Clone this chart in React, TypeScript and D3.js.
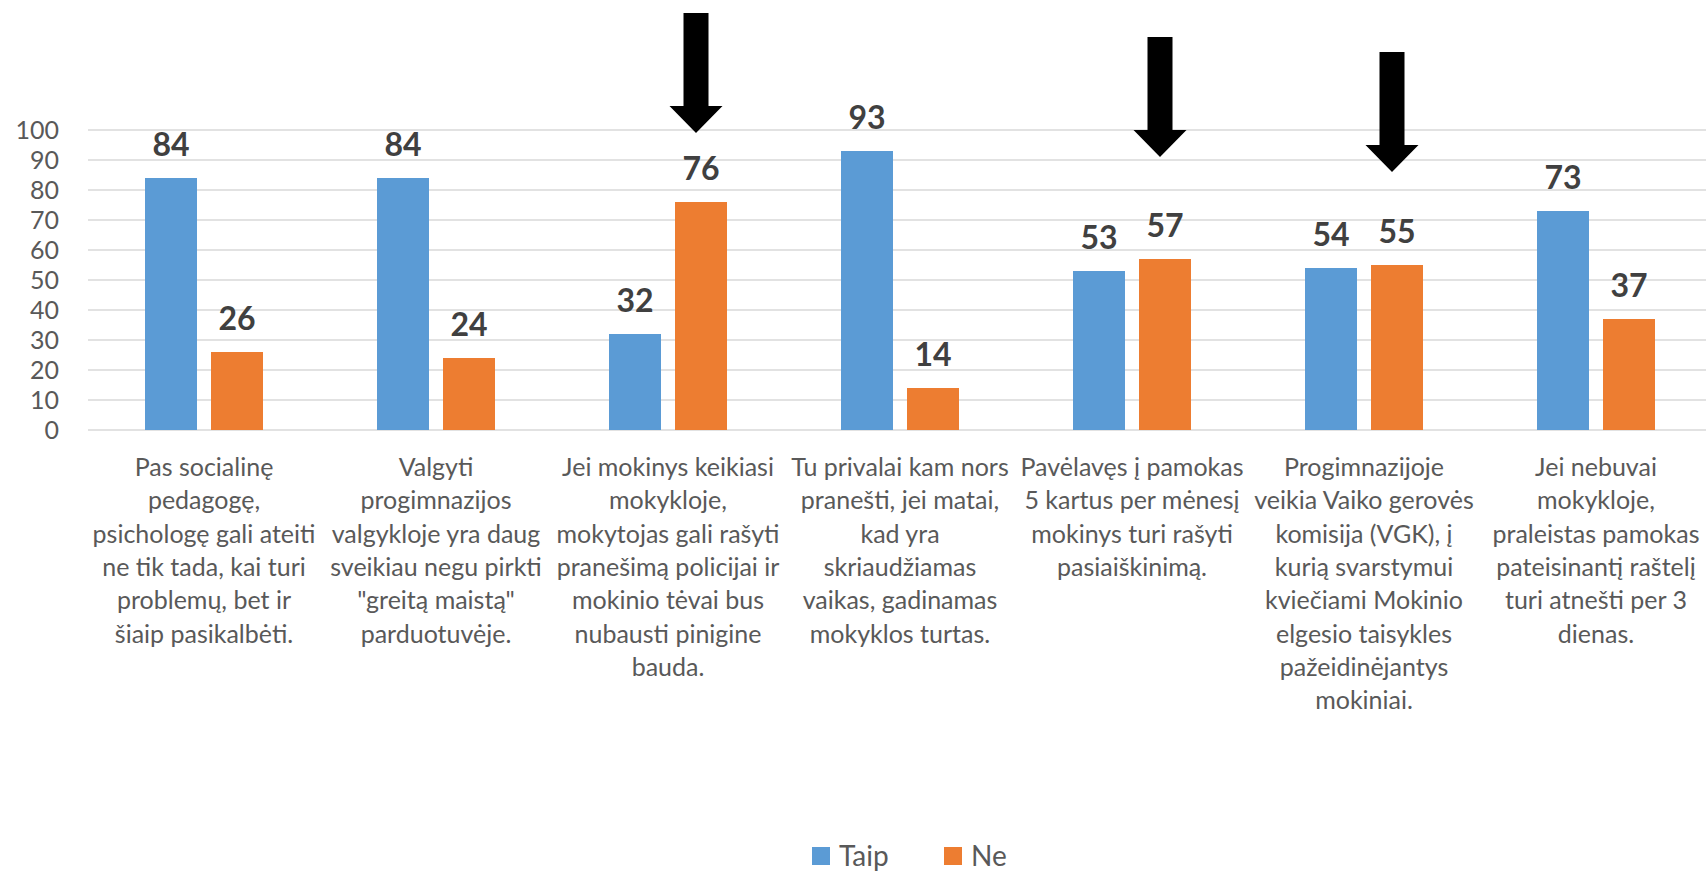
import React from "react";
import * as d3 from "d3";

const W = 1706;
const H = 872;

const categories: string[][] = [
  ["Pas socialinę", "pedagogę,", "psichologę gali ateiti", "ne tik tada, kai turi", "problemų, bet ir", "šiaip pasikalbėti."],
  ["Valgyti", "progimnazijos", "valgykloje yra daug", "sveikiau negu pirkti", "\"greitą maistą\"", "parduotuvėje."],
  ["Jei mokinys keikiasi", "mokykloje,", "mokytojas gali rašyti", "pranešimą policijai ir", "mokinio tėvai bus", "nubausti pinigine", "bauda."],
  ["Tu privalai kam nors", "pranešti, jei matai,", "kad yra", "skriaudžiamas", "vaikas, gadinamas", "mokyklos turtas."],
  ["Pavėlavęs į pamokas", "5 kartus per mėnesį", "mokinys turi rašyti", "pasiaiškinimą."],
  ["Progimnazijoje", "veikia Vaiko gerovės", "komisija (VGK), į", "kurią svarstymui", "kviečiami Mokinio", "elgesio taisykles", "pažeidinėjantys", "mokiniai."],
  ["Jei nebuvai", "mokykloje,", "praleistas pamokas", "pateisinantį raštelį", "turi atnešti per 3", "dienas."],
];

const seriesNames = ["Taip", "Ne"];
const taip = [84, 84, 32, 93, 53, 54, 73];
const ne = [26, 24, 76, 14, 57, 55, 37];
const yTicks = [0, 10, 20, 30, 40, 50, 60, 70, 80, 90, 100];

// arrow annotations: category index, top value, tip value
const arrowCats = [2, 4, 5];
const arrowTops = [139, 131, 126];
const arrowTips = [99, 91, 86];

const colors = ["#5b9bd5", "#ed7d31"];
const font = "Lato, 'Open Sans', sans-serif";

export default function App() {
  const x = d3.scaleBand<number>().domain(d3.range(categories.length)).range([88, 1712]).paddingInner(0).paddingOuter(0);
  const y = d3.scaleLinear().domain([0, 100]).range([430, 130]);
  const barW = 52;
  const gap = 14;
  const series = [taip, ne];
  const cx = (i: number) => (x(i) as number) + x.bandwidth() / 2;
  const barX = (i: number, s: number) => (s === 0 ? cx(i) - gap / 2 - barW : cx(i) + gap / 2);

  const shaftW = 25;
  const headW = 53;
  const headL = 27;

  return (
    <svg width={W} height={H} style={{ position: "absolute", left: 0, top: 0, background: "#fff" }} fontFamily={font}>
      {yTicks.map((t) => (
        <g key={t}>
          <line x1={88} x2={W} y1={y(t)} y2={y(t)} stroke="#d9d9d9" strokeWidth={1.5} />
          <text x={59} y={y(t)} dy="0.36em" textAnchor="end" fontSize={25} fill="#595959">
            {t}
          </text>
        </g>
      ))}
      {series.map((vals, s) =>
        vals.map((v, i) => (
          <g key={`${s}-${i}`}>
            <rect x={barX(i, s)} y={y(v)} width={barW} height={y(0) - y(v)} fill={colors[s]} />
            <text x={barX(i, s) + barW / 2} y={y(v) - 22} textAnchor="middle" fontSize={32} fontWeight="bold" fill="#404040">
              {v}
            </text>
          </g>
        ))
      )}
      {categories.map((lines, i) => (
        <text key={i} x={cx(i)} textAnchor="middle" fontSize={25} fill="#595959">
          {lines.map((l, j) => (
            <tspan key={j} x={cx(i)} y={476 + j * 33.3}>
              {l}
            </tspan>
          ))}
        </text>
      ))}
      {arrowCats.map((c, k) => {
        const ax = barX(c, 1) + barW / 2 - 5;
        const top = y(arrowTops[k]);
        const tip = y(arrowTips[k]);
        const hs = tip - headL;
        const d = `M${ax - shaftW / 2},${top} L${ax + shaftW / 2},${top} L${ax + shaftW / 2},${hs} L${ax + headW / 2},${hs} L${ax},${tip} L${ax - headW / 2},${hs} L${ax - shaftW / 2},${hs} Z`;
        return <path key={k} d={d} fill="#000" />;
      })}
      <g>
        {seriesNames.map((n, s) => {
          const lx = s === 0 ? 812 : 944;
          return (
            <g key={n}>
              <rect x={lx} y={847} width={18} height={18} fill={colors[s]} />
              <text x={lx + 27} y={866} fontSize={28} fill="#595959">
                {n}
              </text>
            </g>
          );
        })}
      </g>
    </svg>
  );
}
